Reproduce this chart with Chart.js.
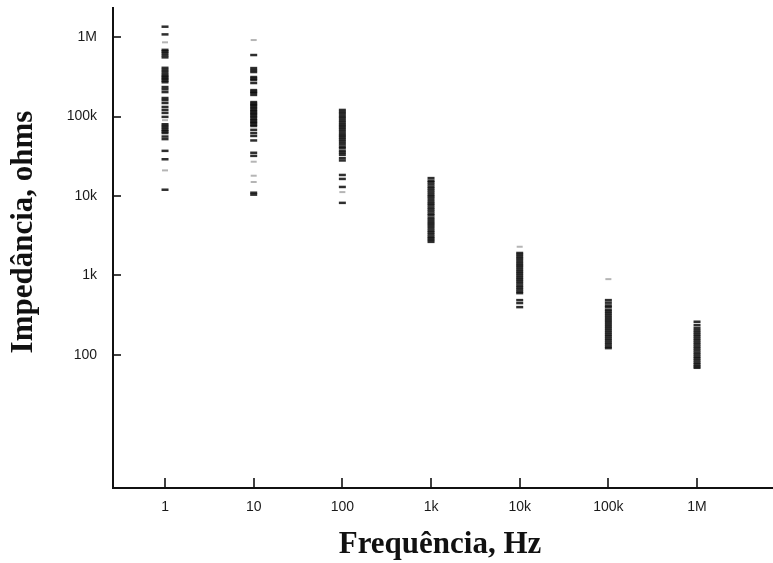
<!DOCTYPE html>
<html>
<head>
<meta charset="utf-8">
<script src="https://cdn.jsdelivr.net/npm/chart.js@4/dist/chart.umd.min.js"></script>
<style>
  html, body { margin: 0; padding: 0; background: #fff; }
  #wrap { width: 773px; height: 563px; }
</style>
</head>
<body>
<div id="wrap"><canvas id="c" width="773" height="563"></canvas></div>
<script>
// Test frequencies (Hz) and their axis labels
const frequencies = [1, 10, 100, 1e3, 1e4, 1e5, 1e6];
const freqLabels = ['1', '10', '100', '1k', '10k', '100k', '1M'];

// Impedance decades (ohms) and their axis labels
const impTicks = [100, 1e3, 1e4, 1e5, 1e6];
const impLabels = ['100', '1k', '10k', '100k', '1M'];

// Measured impedance readings (ohms) at each frequency
const imp1Hz = [1350000, 1080000, 690000, 660000, 630000, 590000, 555000, 410000, 385000, 363000,
  340000, 323000, 310000, 296000, 283000, 270000, 235000, 220000, 203000, 171000, 161000, 148000,
  132000, 121000, 111000, 99000, 80000, 76000, 72000, 68000, 65000, 62000, 56000, 52000, 37000,
  29000, 12000];
const imp10Hz = [594000, 407000, 384000, 363000, 314000, 300000, 288000, 264000, 215000, 205000,
  198000, 187000, 152000, 145000, 140000, 134000, 128000, 122000, 117000, 112000, 108000, 103000,
  99000, 94000, 90000, 86000, 83000, 79000, 76000, 68000, 62000, 57000, 50000, 35000, 32000, 11000,
  10400];
const imp100Hz = [121000, 114000, 108000, 101000, 96000, 90000, 85000, 80000, 76000, 72000, 68000,
  64000, 60000, 57000, 54000, 51000, 48000, 45000, 42000, 40000, 37000, 35000, 33000, 30000, 28000,
  18400, 16400, 13000, 8200];
const imp1kHz = [16800, 15600, 14900, 14000, 13100, 12400, 11700, 11000, 10300, 9800, 9200, 8600,
  8100, 7700, 7200, 6800, 6400, 6000, 5700, 5300, 5000, 4700, 4450, 4200, 3950, 3700, 3500, 3300,
  3100, 2950, 2800, 2650];
const imp10kHz = [1920, 1820, 1710, 1620, 1520, 1430, 1350, 1280, 1200, 1130, 1070, 1010, 950, 900,
  850, 800, 750, 710, 670, 630, 600, 490, 450, 400];
const imp100kHz = [490, 455, 420, 400, 370, 350, 330, 310, 292, 275, 260, 245, 231, 218, 205, 193,
  182, 172, 162, 153, 144, 136, 128, 122];
const imp1MHz = [262, 238, 219, 205, 193, 182, 172, 162, 153, 144, 136, 128, 121, 114, 107, 101, 95,
  90, 85, 80, 76, 72, 69];

// Weak (lightly printed) readings
const imp1HzWeak = [858000, 90000, 21000];
const imp10HzWeak = [917000, 27000, 18000, 15000];
const imp100HzWeak = [11200];
const imp10kHzWeak = [2300];
const imp100kHzWeak = [900];

const strongColumns = [imp1Hz, imp10Hz, imp100Hz, imp1kHz, imp10kHz, imp100kHz, imp1MHz];
const weakColumns = [imp1HzWeak, imp10HzWeak, imp100HzWeak, [], imp10kHzWeak, imp100kHzWeak, []];

function toPoints(columns) {
  const pts = [];
  columns.forEach((vals, i) => vals.forEach(v => pts.push({ x: frequencies[i], y: v })));
  return pts;
}

const AXIS_LEFT = 113;
const AXIS_BOTTOM = 488;

// Keep the plot box fixed: no extra room reserved for edge labels
function noEdgePadding(scale) {
  scale.paddingTop = 0;
  scale.paddingBottom = 0;
  scale.paddingLeft = 0;
  scale.paddingRight = 0;
}

// Inward tick marks and the two axis titles
const axisDecor = {
  id: 'axisDecor',
  afterDraw(chart) {
    const { ctx, scales: { x, y }, chartArea } = chart;
    ctx.save();
    ctx.strokeStyle = '#111';
    ctx.lineWidth = 1.6;
    frequencies.forEach(v => {
      const px = Math.round(x.getPixelForValue(v));
      ctx.beginPath();
      ctx.moveTo(px, chartArea.bottom);
      ctx.lineTo(px, chartArea.bottom - 10);
      ctx.stroke();
    });
    impTicks.forEach(v => {
      const py = Math.round(y.getPixelForValue(v));
      ctx.beginPath();
      ctx.moveTo(chartArea.left, py);
      ctx.lineTo(chartArea.left + 8, py);
      ctx.stroke();
    });

    ctx.fillStyle = '#111';
    ctx.font = 'bold 31px "Liberation Serif", "Times New Roman", serif';
    ctx.textAlign = 'center';
    ctx.textBaseline = 'alphabetic';
    ctx.fillText('Frequência, Hz', 440, 553);

    ctx.translate(32, 232);
    ctx.rotate(-Math.PI / 2);
    ctx.fillText('Impedância, ohms', 0, 0);
    ctx.restore();
  }
};

new Chart(document.getElementById('c'), {
  type: 'scatter',
  data: {
    datasets: [
      {
        data: toPoints(strongColumns),
        pointStyle: 'line',
        radius: 3.5,
        hoverRadius: 3.5,
        borderWidth: 2.5,
        borderColor: 'rgba(10,10,10,0.85)',
        backgroundColor: 'rgba(10,10,10,0.85)'
      },
      {
        data: toPoints(weakColumns),
        pointStyle: 'line',
        radius: 3,
        hoverRadius: 3,
        borderWidth: 2,
        borderColor: 'rgba(10,10,10,0.3)',
        backgroundColor: 'rgba(10,10,10,0.3)'
      }
    ]
  },
  options: {
    responsive: false,
    animation: false,
    devicePixelRatio: 1,
    layout: { autoPadding: false, padding: { top: 8, left: 0, right: 0, bottom: 0 } },
    plugins: {
      legend: { display: false },
      tooltip: { enabled: false }
    },
    scales: {
      x: {
        type: 'logarithmic',
        position: 'bottom',
        min: 0.259,
        max: 7.19e6,
        grid: { display: false, drawTicks: false },
        border: { display: true, color: '#111', width: 2 },
        afterBuildTicks(scale) { scale.ticks = frequencies.map(v => ({ value: v })); },
        afterFit(scale) { scale.height = 563 - AXIS_BOTTOM; noEdgePadding(scale); },
        ticks: {
          autoSkip: false,
          maxRotation: 0,
          padding: 11,
          color: '#1a1a1a',
          font: { family: '"Liberation Sans", Arial, sans-serif', size: 14 },
          callback: (v, i) => freqLabels[i]
        }
      },
      y: {
        type: 'logarithmic',
        position: 'left',
        min: 2.12,
        max: 2.32e6,
        grid: { display: false, drawTicks: false },
        border: { display: true, color: '#111', width: 2 },
        afterBuildTicks(scale) { scale.ticks = impTicks.map(v => ({ value: v })); },
        afterFit(scale) { scale.width = AXIS_LEFT; noEdgePadding(scale); },
        ticks: {
          autoSkip: false,
          padding: 16,
          color: '#1a1a1a',
          font: { family: '"Liberation Sans", Arial, sans-serif', size: 14 },
          callback: (v, i) => impLabels[i]
        }
      }
    }
  },
  plugins: [axisDecor]
});
</script>
</body>
</html>
